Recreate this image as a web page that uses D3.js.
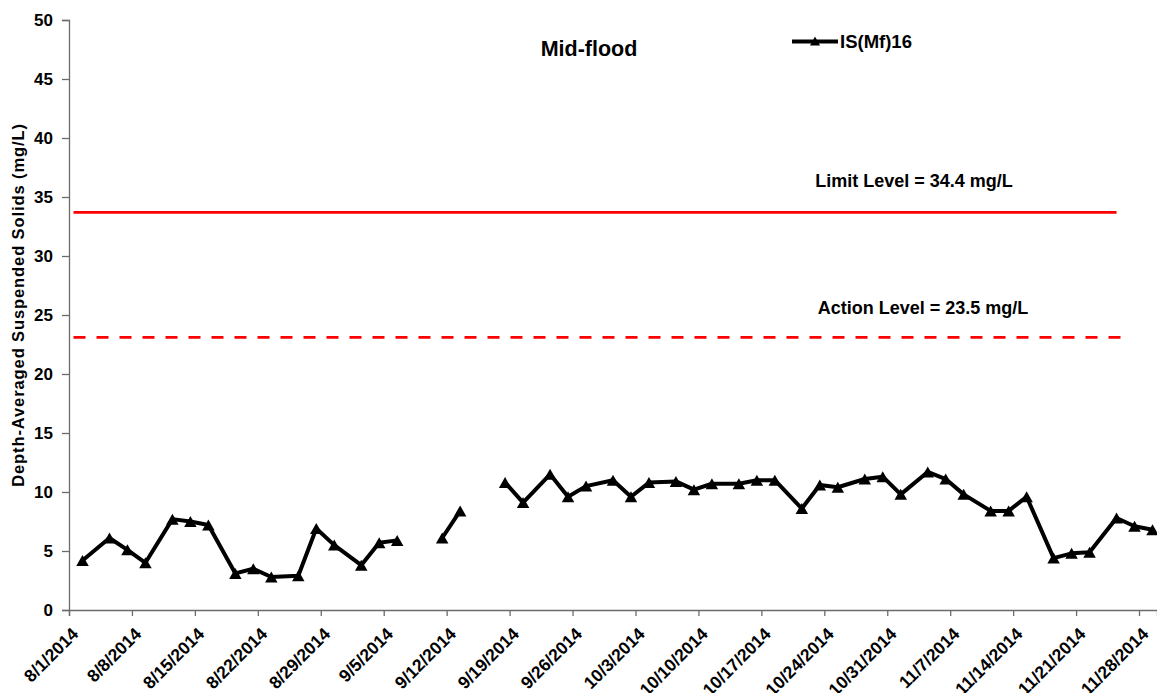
<!DOCTYPE html>
<html>
<head>
<meta charset="utf-8">
<script src="https://cdn.jsdelivr.net/npm/d3@7"></script>
<style>
  html, body { margin: 0; padding: 0; background: #fff; }
  svg { display: block; font-family: "Liberation Sans", Arial, sans-serif; }
</style>
</head>
<body>
<svg id="chart" width="1157" height="693"></svg>
<script>
// ---- data ----
const sampleDates = ["8/2/2014","8/5/2014","8/7/2014","8/9/2014","8/12/2014","8/14/2014","8/16/2014","8/19/2014","8/21/2014","8/23/2014","8/26/2014","8/28/2014","8/30/2014","9/2/2014","9/4/2014","9/6/2014","9/9/2014","9/11/2014","9/13/2014","9/16/2014","9/18/2014","9/20/2014","9/23/2014","9/25/2014","9/27/2014","9/30/2014","10/2/2014","10/4/2014","10/7/2014","10/9/2014","10/11/2014","10/14/2014","10/16/2014","10/18/2014","10/21/2014","10/23/2014","10/25/2014","10/28/2014","10/30/2014","11/1/2014","11/4/2014","11/6/2014","11/8/2014","11/11/2014","11/13/2014","11/15/2014","11/18/2014","11/20/2014","11/22/2014","11/25/2014","11/27/2014","11/29/2014"];
const tssValues = [4.2,6.1,5.1,4.0,7.7,7.5,7.2,3.1,3.5,2.8,2.9,6.9,5.5,3.8,5.7,5.9,null,6.1,8.4,null,10.8,9.1,11.5,9.6,10.5,11.0,9.6,10.8,10.9,10.2,10.7,10.7,11.0,11.0,8.6,10.6,10.4,11.1,11.3,9.8,11.7,11.1,9.8,8.4,8.4,9.6,4.4,4.8,4.9,7.8,7.1,6.8];
const limitDates = ["8/1/2014","11/25/2014"];
const limitValues = [33.7, 33.7];
const actionDates = ["8/1/2014","11/26/2014"];
const actionValues = [23.1, 23.1];
const xTickLabels = ["8/1/2014","8/8/2014","8/15/2014","8/22/2014","8/29/2014","9/5/2014","9/12/2014","9/19/2014","9/26/2014","10/3/2014","10/10/2014","10/17/2014","10/24/2014","10/31/2014","11/7/2014","11/14/2014","11/21/2014","11/28/2014"];
const yTicks = [0,5,10,15,20,25,30,35,40,45,50];
const xDomainLabels = ["8/1/2014","11/30/2014"];
const seriesName = "IS(Mf)16";
const chartTitle = "Mid-flood";
const yTitle = "Depth-Averaged Suspended Solids (mg/L)";
const limitLabel = "Limit Level = 34.4 mg/L";
const actionLabel = "Action Level = 23.5 mg/L";

// ---- setup ----
const parse = d3.timeParse("%m/%d/%Y");
const noon = d => d3.timeHour.offset(parse(d), 12);
const svg = d3.select("#chart");
const plotLeft = 69, plotRight = 1157, plotTop = 20, plotBottom = 610;

const x = d3.scaleTime().domain(xDomainLabels.map(parse)).range([plotLeft, plotRight]);
const y = d3.scaleLinear().domain([0, 50]).range([plotBottom, plotTop]);

const font = '"Liberation Sans", Arial, sans-serif';
const axisColor = "#6b6b6b";

// y axis
const gy = svg.append("g").attr("transform", `translate(${plotLeft},0)`)
  .call(d3.axisLeft(y).tickValues(yTicks).tickSize(7).tickPadding(9).tickFormat(d3.format("d")));
gy.select(".domain").attr("stroke", axisColor).attr("stroke-width", 1.3);
gy.selectAll(".tick line").attr("stroke", axisColor).attr("stroke-width", 1.3);
gy.selectAll(".tick text").attr("font-family", font).attr("font-size", 17).attr("font-weight", "bold").attr("fill", "#000");

// x axis
const gx = svg.append("g").attr("transform", `translate(0,${plotBottom})`)
  .call(d3.axisBottom(x).tickValues(xTickLabels.map(parse)).tickSize(6).tickFormat((d, i) => xTickLabels[i]));
gx.select(".domain").attr("stroke", axisColor).attr("stroke-width", 1.3);
gx.selectAll(".tick line").attr("stroke", axisColor).attr("stroke-width", 1.3);
gx.selectAll(".tick text")
  .attr("font-family", font).attr("font-size", 17.5).attr("font-weight", "bold").attr("fill", "#000")
  .attr("text-anchor", "end")
  .attr("dy", null).attr("y", null)
  .attr("transform", "translate(10,25) rotate(-45)");

// y title
svg.append("text")
  .attr("transform", "translate(24,305) rotate(-90)")
  .attr("text-anchor", "middle")
  .attr("font-family", font).attr("font-size", 16.5).attr("font-weight", "bold")
  .attr("letter-spacing", 0.9)
  .text(yTitle);

// reference lines
const refLine = d3.line().x(d => x(d[0])).y(d => y(d[1]));
svg.append("path")
  .datum(limitDates.map((d, i) => [noon(d), limitValues[i]]))
  .attr("d", refLine).attr("fill", "none").attr("stroke", "#ff0000").attr("stroke-width", 2.6);
svg.append("path")
  .datum(actionDates.map((d, i) => [noon(d), actionValues[i]]))
  .attr("d", refLine).attr("fill", "none").attr("stroke", "#ff0000").attr("stroke-width", 2.8)
  .attr("stroke-dasharray", "12,11");

svg.append("text").attr("x", 914).attr("y", 187).attr("text-anchor", "middle")
  .attr("font-family", font).attr("font-size", 18).attr("font-weight", "bold").text(limitLabel);
svg.append("text").attr("x", 923).attr("y", 314).attr("text-anchor", "middle")
  .attr("font-family", font).attr("font-size", 18).attr("font-weight", "bold").text(actionLabel);

// data series
const pts = sampleDates.map((d, i) => ({ date: noon(d), v: tssValues[i] }));
const line = d3.line().defined(d => d.v !== null).x(d => x(d.date)).y(d => y(d.v));
svg.append("path").datum(pts).attr("d", line)
  .attr("fill", "none").attr("stroke", "#000").attr("stroke-width", 4).attr("stroke-linejoin", "round");

const tri = (w, h) => `M0,${-h/2}L${w/2},${h/2}L${-w/2},${h/2}Z`;
svg.append("g").selectAll("path").data(pts.filter(d => d.v !== null)).join("path")
  .attr("transform", d => `translate(${x(d.date)},${y(d.v)})`)
  .attr("d", tri(12.5, 11)).attr("fill", "#000");

// title
svg.append("text").attr("x", 589).attr("y", 56).attr("text-anchor", "middle")
  .attr("font-family", font).attr("font-size", 21.5).attr("font-weight", "bold").text(chartTitle);

// legend
svg.append("line").attr("x1", 792).attr("x2", 838).attr("y1", 41.5).attr("y2", 41.5)
  .attr("stroke", "#000").attr("stroke-width", 4);
svg.append("path").attr("transform", "translate(815,41)").attr("d", tri(10, 9)).attr("fill", "#000");
svg.append("text").attr("x", 840).attr("y", 47.5)
  .attr("font-family", font).attr("font-size", 18.5).attr("font-weight", "bold").text(seriesName);
</script>
</body>
</html>
